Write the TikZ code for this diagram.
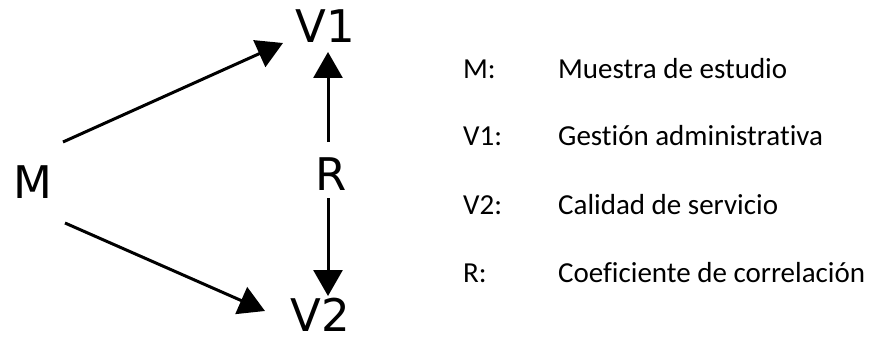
\documentclass[tikz,border=0pt]{standalone}
\usepackage{fontspec}
\setmainfont[RawFeature={-liga;-dlig;-clig}]{Carlito}
\newfontfamily\diagfont{DejaVu Sans}
\usetikzlibrary{arrows.meta}

\begin{document}
\begin{tikzpicture}[x=1pt,y=-1pt,
  var/.style={font=\diagfont\fontsize{45}{45}\selectfont, inner sep=0pt, text depth=0pt, anchor=base},
  key/.style={font=\fontsize{29}{29}\selectfont, inner sep=0pt, anchor=base west},
  arr/.style={line width=3pt, -{Triangle[length=26pt,width=29pt]}}]
  \useasboundingbox (0,0) rectangle (871,337);

  % variables of the design
  \node[var] (M)  at (32.5,198) {M};
  \node[var] (V1) at (325,43)  {V1};
  \node[var] (V2) at (320,331) {V2};
  \node[var] (R)  at (331.5,190) {R};

  % ends of the connectors
  \coordinate (m1) at (63,142);
  \coordinate (v1in) at (283,43);
  \coordinate (m2) at (65,223);
  \coordinate (v2in) at (265,311);
  \coordinate (r1) at (328,142);
  \coordinate (v1r) at (328,52);
  \coordinate (r2) at (328,198);
  \coordinate (v2r) at (328,296);

  \draw[arr] (m1) -- (v1in);
  \draw[arr] (m2) -- (v2in);
  \draw[arr] (r1) -- (v1r);
  \draw[arr] (r2) -- (v2r);

  % legend
  \node[key] (kM)  at (463,78)  {M:};
  \node[key] (kV1) at (463,146) {V1:};
  \node[key] (kV2) at (463,214) {V2:};
  \node[key] (kR)  at (463,282) {R:};
  \node[key] (dM)  at (558,78)  {Muestra de estudio};
  \node[key] (dV1) at (558,146) {Gestión administrativa};
  \node[key] (dV2) at (558,214) {Calidad de servicio};
  \node[key] (dR)  at (558,282) {Coeficiente de correlación};
\end{tikzpicture}
\end{document}
